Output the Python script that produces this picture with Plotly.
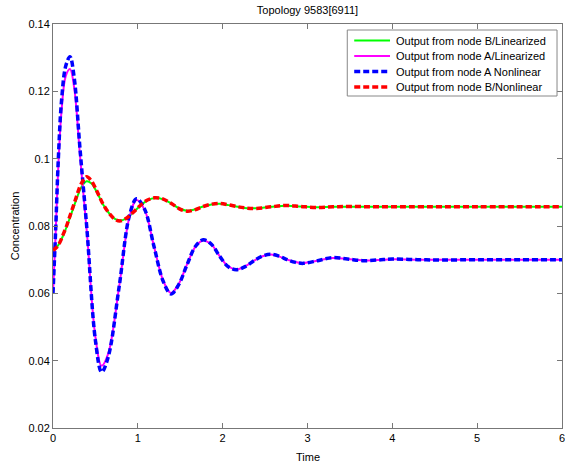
import plotly.graph_objects as go

# ---- data ----
t_A = [0, 0.03, 0.063, 0.1, 0.15, 0.2, 0.25, 0.318, 0.4, 0.5, 0.573, 0.65, 0.78, 0.9, 0.985,
       1.08, 1.19, 1.3, 1.39, 1.48, 1.58, 1.68, 1.77, 1.87, 1.96, 2.06, 2.16, 2.27, 2.37, 2.47,
       2.57, 2.67, 2.76, 2.86, 2.95, 3.12, 3.29, 3.47, 3.65, 3.83, 4.0, 4.3, 4.6, 5.0, 5.5, 6.0]
a_nonlin = [0.060, 0.078, 0.100, 0.117, 0.1275, 0.1303, 0.124, 0.103, 0.079, 0.046, 0.0366, 0.041,
            0.062, 0.083, 0.0881, 0.085, 0.074, 0.0635, 0.0598, 0.0625, 0.0685, 0.0740, 0.0759,
            0.0745, 0.0712, 0.0680, 0.0670, 0.0680, 0.0697, 0.0711, 0.0716, 0.0710, 0.0700,
            0.0692, 0.0689, 0.0697, 0.0706, 0.0702, 0.0697, 0.0699, 0.0702, 0.0700, 0.0699,
            0.0700, 0.0700, 0.0700]
a_lin = [0.060, 0.077, 0.098, 0.114, 0.1245, 0.1266, 0.121, 0.101, 0.078, 0.047, 0.0385, 0.042,
         0.062, 0.0825, 0.0877, 0.0848, 0.074, 0.0637, 0.0601, 0.0627, 0.0686, 0.0739, 0.0757,
         0.0744, 0.0712, 0.0681, 0.0671, 0.0681, 0.0697, 0.0710, 0.0715, 0.0709, 0.0700,
         0.0693, 0.0690, 0.0697, 0.0705, 0.0702, 0.0698, 0.0699, 0.0701, 0.0700, 0.0700,
         0.0700, 0.0700, 0.0700]

t_B = [0, 0.04, 0.08, 0.12, 0.16, 0.2, 0.239, 0.28, 0.318, 0.36, 0.396, 0.45, 0.514, 0.59, 0.67,
       0.73, 0.788, 0.86, 0.92, 0.985, 1.05, 1.12, 1.2, 1.3, 1.4, 1.49, 1.58, 1.67, 1.77, 1.87,
       1.965, 2.07, 2.18, 2.29, 2.4, 2.57, 2.75, 2.92, 3.1, 3.3, 3.5, 3.8, 4.2, 5.0, 6.0]
b_nonlin = [0.0728, 0.0736, 0.0751, 0.0775, 0.0800, 0.0830, 0.0859, 0.0890, 0.0918, 0.0937,
            0.0946, 0.0935, 0.0905, 0.0865, 0.0835, 0.0820, 0.0815, 0.0822, 0.0835, 0.0850,
            0.0866, 0.0878, 0.0884, 0.0880, 0.0866, 0.0851, 0.0844, 0.0848, 0.0858, 0.0865,
            0.0867, 0.0863, 0.0857, 0.0853, 0.0852, 0.0857, 0.0861, 0.0858, 0.0855, 0.0857,
            0.0858, 0.0857, 0.0857, 0.0857, 0.0857]
b_lin = [0.0728, 0.0736, 0.0750, 0.0772, 0.0797, 0.0825, 0.0853, 0.0882, 0.0907, 0.0925,
         0.0933, 0.0927, 0.0902, 0.0864, 0.0835, 0.0821, 0.0816, 0.0822, 0.0835, 0.0850,
         0.0865, 0.0877, 0.0883, 0.0879, 0.0866, 0.0852, 0.0845, 0.0849, 0.0858, 0.0864,
         0.0866, 0.0862, 0.0857, 0.0853, 0.0853, 0.0857, 0.0860, 0.0858, 0.0856, 0.0857,
         0.0857, 0.0857, 0.0857, 0.0857, 0.0857]

series_names = ["Output from node B/Linearized", "Output from node A/Linearized",
                "Output from node A Nonlinear", "Output from node B/Nonlinear"]
series_colors = ["#00ff00", "#ff00ff", "#0000ff", "#ff0000"]

x_ticks = [0, 1, 2, 3, 4, 5, 6]
y_ticks = [0.02, 0.04, 0.06, 0.08, 0.1, 0.12, 0.14]
y_tick_labels = ["0.02", "0.04", "0.06", "0.08", "0.1", "0.12", "0.14"]

FONT = "Liberation Sans, Arial, sans-serif"
W, H = 565, 468
ML, MR, MT, MB = 53, 0, 24, 40
PW, PH = W - ML - MR, H - MT - MB


def px(x):
    return (x - ML) / PW


def py(y):
    return 1 - (y - MT) / PH


styles = [dict(width=2, dash="solid"), dict(width=2, dash="solid"),
          dict(width=3.5, dash="6px,3px"), dict(width=3.5, dash="6px,3px")]
xs = [t_B, t_A, t_A, t_B]
ys = [b_lin, a_lin, a_nonlin, b_nonlin]

fig = go.Figure()
for name, color, st, x, y in zip(series_names, series_colors, styles, xs, ys):
    fig.add_trace(go.Scatter(x=x, y=y, mode="lines", name=name, showlegend=False,
                             line=dict(color=color, width=st["width"], dash=st["dash"],
                                       shape="spline")))

# custom legend (compact, MATLAB-like)
shapes = [dict(type="rect", xref="paper", yref="paper", x0=px(349), x1=px(560),
               y0=py(96), y1=py(30), line=dict(color="#888888", width=1),
               fillcolor="white", layer="above")]
annotations = []
row_y = [40.5, 56, 71.5, 87]
for name, color, st, ry in zip(series_names, series_colors, styles, row_y):
    shapes.append(dict(type="line", xref="paper", yref="paper", x0=px(356), x1=px(392),
                       y0=py(ry), y1=py(ry), layer="above",
                       line=dict(color=color, width=st["width"], dash=st["dash"])))
    annotations.append(dict(text=name, xref="paper", yref="paper", x=px(396), y=py(ry),
                            xanchor="left", yanchor="middle", showarrow=False,
                            font=dict(family=FONT, size=11, color="black")))

annotations += [
    dict(text="Time", xref="paper", yref="paper", x=px(309), y=py(457),
         xanchor="center", yanchor="middle", showarrow=False,
         font=dict(family=FONT, size=11, color="black")),
    dict(text="Concentration", xref="paper", yref="paper", x=px(15), y=py(226),
         xanchor="center", yanchor="middle", showarrow=False, textangle=-90,
         font=dict(family=FONT, size=11, color="black")),
]

axis_common = dict(showline=True, linecolor="#777777", linewidth=1, mirror="ticks",
                   ticks="inside", ticklen=5, tickcolor="#777777", showgrid=False,
                   zeroline=False, ticklabeloverflow="allow",
                   tickfont=dict(family=FONT, size=11, color="black"))

fig.update_layout(
    width=W, height=H,
    margin=dict(l=ML, r=MR, t=MT, b=MB),
    paper_bgcolor="white", plot_bgcolor="white",
    font=dict(family=FONT, size=11, color="black"),
    title=dict(text="Topology 9583[6911]", x=px(309), xanchor="center", xref="paper",
               y=1 - 10 / H, yref="container", yanchor="middle",
               font=dict(family=FONT, size=11, color="black")),
    xaxis=dict(range=[0, 6], tickvals=x_ticks, **axis_common),
    yaxis=dict(range=[0.02, 0.14], tickvals=y_ticks, ticktext=y_tick_labels, **axis_common),
    showlegend=False,
    shapes=shapes,
    annotations=annotations,
)

fig.write_html("out.html", config={"displayModeBar": False},
               post_script="document.body.style.margin='0';")
